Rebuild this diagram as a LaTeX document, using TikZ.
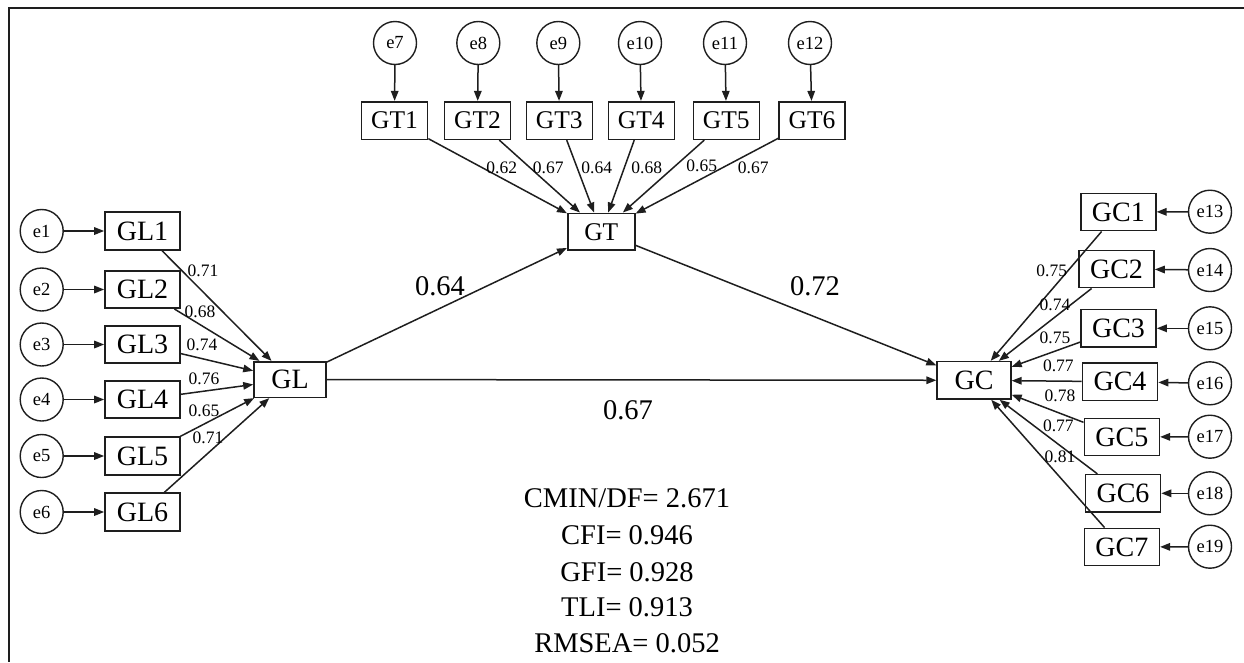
\documentclass[tikz,border=0pt]{standalone}
\usepackage{fontspec}
\setmainfont{Liberation Serif}
\usetikzlibrary{arrows.meta}
\definecolor{ink}{HTML}{1E1E1E}
\begin{document}
\begin{tikzpicture}[x=1pt,y=-1pt,
  ln/.style={draw=ink, line width=1.5pt},
  arr/.style={ln, -{Triangle[length=10pt,width=7.5pt]}},
  obs/.style={draw=ink, line width=1.6pt, minimum height=37.5pt, inner sep=0pt, font=\fontsize{28}{28}\selectfont},
  obst/.style={obs, font=\fontsize{25.5}{25.5}\selectfont},
  err/.style={circle, draw=ink, line width=1.4pt, minimum size=43pt, inner sep=0pt, font=\fontsize{18.5}{18.5}\selectfont},
  sm/.style={inner sep=0pt, font=\fontsize{17.5}{17.5}\selectfont, text height=12pt, text depth=0pt},
  big/.style={inner sep=0pt, font=\fontsize{28.5}{28.5}\selectfont, text height=18.8pt, text depth=0pt},
  frame/.style={draw=ink, line width=1.6pt}
]
\useasboundingbox (0,0) rectangle (1244,662);
% frame (partially visible)
\draw[frame] (1244,8) -- (9,8) -- (9,662);

% latent variables
\node[obs, minimum width=72pt, minimum height=35.6pt] (GL) at (290,379.5) {GL};
\node[obst, minimum width=67pt, minimum height=36.7pt] (GT) at (601.3,231.7) {GT};
\node[obs, minimum width=73.7pt, minimum height=37.3pt] (GC) at (974,380.3) {GC};

% GL indicators
\foreach \i/\y in {1/231,2/289.5,3/344.5,4/399.5,5/456,6/512}{
  \node[obs, minimum width=75pt] (GL\i) at (142.5,\y) {GL\i};
  \node[err] (eL\i) at (41.7,\y) {e\i};
  \draw[arr] (eL\i) -- (GL\i);
  \draw[arr] (GL\i) -- (GL);
}

% GT indicators
\foreach \i/\x/\ex/\e in {1/394.5/395/7,2/477.5/478.3/8,3/559.3/558.3/9,4/641.3/640/10,5/726.3/725/11,6/812/810/12}{
  \node[obst, minimum width=66pt, minimum height=37.6pt] (GT\i) at (\x,120.5) {GT\i};
  \node[err] (eT\i) at (\ex,43) {e\e};
  \draw[arr] (eT\i) -- (GT\i);
  \draw[arr] (GT\i) -- (GT);
}

% GC indicators
\foreach \i/\x/\y/\ey/\e in {1/1118.3/212/211.7/13,2/1116.5/269/270/14,3/1118.5/328.3/328.3/15,4/1120/381.7/383.3/16,5/1121.8/437/436.7/17,6/1123/493.3/493.3/18,7/1121.8/547/546.7/19}{
  \node[obs, minimum width=75pt, minimum height=37.3pt] (GC\i) at (\x,\y) {GC\i};
  \node[err] (eC\i) at (1210,\ey) {e\e};
  \draw[arr] (eC\i) -- (GC\i);
  \draw[arr] (GC\i) -- (GC);
}

% structural paths
\draw[arr] (GL) -- (GT);
\draw[arr] (GT) -- (GC);
\draw[arr] (GL) -- (GC);

\node[big] (b1) at (440,286) {0.64};
\node[big] (b2) at (815,286) {0.72};
\node[big] (b3) at (628,410) {0.67};

% loadings GL
\node[sm] (l1) at (203,270) {0.71};
\node[sm] (l2) at (200,311.7) {0.68};
\node[sm] (l3) at (202,344) {0.74};
\node[sm] (l4) at (204,378) {0.76};
\node[sm] (l5) at (204,410) {0.65};
\node[sm] (l6) at (208,437) {0.71};

% loadings GT
\node[sm] (t1) at (501.7,167) {0.62};
\node[sm] (t2) at (548.3,167) {0.67};
\node[sm] (t3) at (596.7,167) {0.64};
\node[sm] (t4) at (646.7,167) {0.68};
\node[sm] (t5) at (701.7,165) {0.65};
\node[sm] (t6) at (753.3,167) {0.67};

% loadings GC
\node[sm] (c1) at (1051.7,270) {0.75};
\node[sm] (c2) at (1055,304) {0.74};
\node[sm] (c3) at (1055,337.3) {0.75};
\node[sm] (c4) at (1058.3,365.7) {0.77};
\node[sm] (c5) at (1060,395) {0.78};
\node[sm] (c6) at (1058.3,425) {0.77};
\node[sm] (c7) at (1060,456) {0.81};

% fit indices
\node[big] (f1) at (627,498.3) {CMIN/DF= 2.671};
\node[big] (f2) at (627,535) {CFI= 0.946};
\node[big] (f3) at (627,571.7) {GFI= 0.928};
\node[big] (f4) at (627,606.7) {TLI= 0.913};
\node[big] (f5) at (627,643.3) {RMSEA= 0.052};
\end{tikzpicture}
\end{document}
